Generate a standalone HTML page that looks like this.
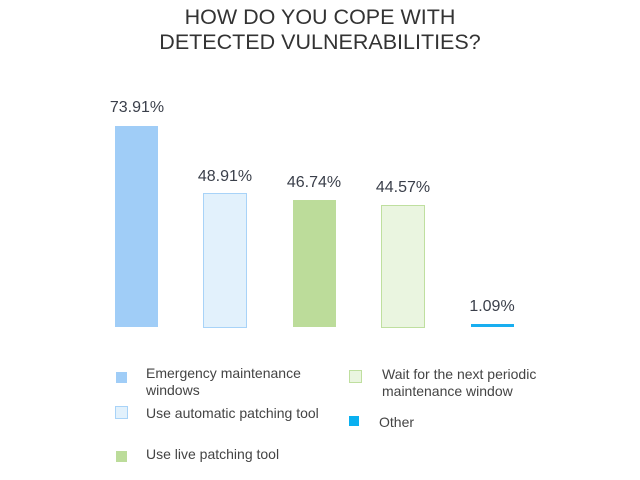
<!DOCTYPE html>
<html><head><meta charset="utf-8"><style>
body{margin:0;width:640px;height:480px;background:#fff;font-family:"Liberation Sans",sans-serif;color:#3a3f4a;position:relative;overflow:hidden}
div{position:absolute}
.t{left:0;width:640px;text-align:center;font-size:21.5px;color:#333}
.v{font-size:16px;width:80px;text-align:center;line-height:18px}
.l{font-size:14px;line-height:17px;color:#444}
.s{width:10px;height:10px}
</style></head><body>
<div class="t" style="top:5px">HOW DO YOU COPE WITH</div>
<div class="t" style="top:30px">DETECTED VULNERABILITIES?</div>

<div style="left:115px;top:126px;width:43px;height:201px;background:#a0cdf7"></div>
<div style="left:203px;top:193px;width:42px;height:133px;background:#e2f1fc;border:1px solid #a8d3f8"></div>
<div style="left:293px;top:200px;width:43px;height:127px;background:#bcdc9a"></div>
<div style="left:381px;top:205px;width:42px;height:121px;background:#eaf5e0;border:1px solid #bfdf9f"></div>
<div style="left:471px;top:324px;width:43px;height:3px;background:#18aef0"></div>

<div class="v" style="left:97px;top:99px">73.91%</div>
<div class="v" style="left:185px;top:168px">48.91%</div>
<div class="v" style="left:274px;top:174px">46.74%</div>
<div class="v" style="left:363px;top:179px">44.57%</div>
<div class="v" style="left:452px;top:298px">1.09%</div>

<div class="s" style="left:116px;top:372px;background:#a0cdf7;width:11px;height:11px"></div>
<div class="s" style="left:115px;top:406px;background:#e2f1fc;border:1px solid #a8d3f8;width:11px;height:11px"></div>
<div class="s" style="left:116px;top:451px;background:#bcdc9a;width:11px;height:11px"></div>
<div class="s" style="left:349px;top:370px;background:#eaf5e0;border:1px solid #bfdf9f;width:11px;height:11px"></div>
<div class="s" style="left:349px;top:416px;background:#0ab0f0"></div>

<div class="l" style="left:146px;top:365px">Emergency maintenance<br>windows</div>
<div class="l" style="left:146px;top:405px">Use automatic patching tool</div>
<div class="l" style="left:146px;top:446px">Use live patching tool</div>
<div class="l" style="left:382px;top:366px">Wait for the next periodic<br>maintenance window</div>
<div class="l" style="left:379px;top:414px">Other</div>
</body></html>
